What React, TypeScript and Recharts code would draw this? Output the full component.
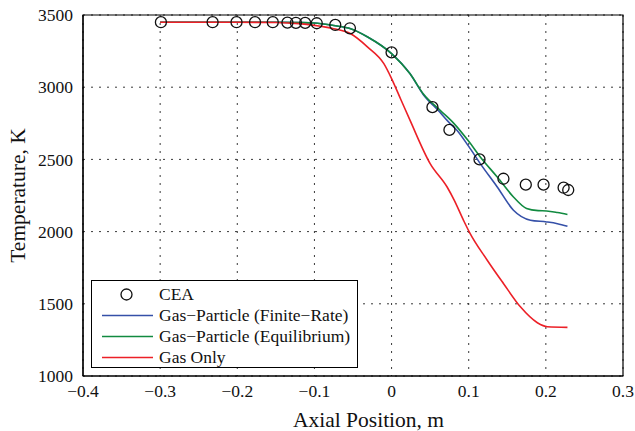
import React from 'react'
import { ComposedChart, Line, Scatter, XAxis, YAxis, CartesianGrid, ReferenceArea } from 'recharts'

// CEA reference points
const ceaX = [-0.299, -0.232, -0.201, -0.177, -0.154, -0.135, -0.124, -0.112, -0.097, -0.073, -0.054, 0.0, 0.053, 0.075, 0.114, 0.145, 0.174, 0.197, 0.223, 0.229]
const ceaT = [3450, 3450, 3450, 3450, 3450, 3447, 3446, 3445, 3443, 3431, 3408, 3241, 2862, 2704, 2500, 2366, 2325, 2325, 2304, 2288]

// Gas-Particle (Finite-Rate)
const finiteX = [-0.3, -0.2, -0.15, -0.12, -0.1, -0.075, -0.053, -0.031, 0.0, 0.024, 0.041, 0.063, 0.072, 0.085, 0.1, 0.115, 0.137, 0.158, 0.18, 0.201, 0.215, 0.228]
const finiteT = [3450, 3450, 3450, 3448, 3445, 3427, 3405, 3348, 3233, 3093, 2950, 2825, 2770, 2700, 2590, 2471, 2309, 2148, 2079, 2067, 2055, 2037]

// Gas-Particle (Equilibrium)
const equilX = [-0.3, -0.2, -0.15, -0.12, -0.1, -0.075, -0.053, -0.031, 0.0, 0.024, 0.041, 0.063, 0.081, 0.1, 0.115, 0.137, 0.158, 0.175, 0.19, 0.201, 0.215, 0.228]
const equilT = [3450, 3450, 3450, 3448, 3445, 3427, 3405, 3348, 3233, 3093, 2955, 2840, 2748, 2625, 2517, 2378, 2240, 2160, 2145, 2143, 2132, 2118]

// Gas Only
const gasX = [-0.3, -0.2, -0.15, -0.12, -0.1, -0.075, -0.053, -0.031, -0.01, 0.0, 0.012, 0.024, 0.05, 0.072, 0.081, 0.094, 0.101, 0.124, 0.145, 0.167, 0.189, 0.202, 0.228]
const gasT = [3450, 3450, 3448, 3440, 3428, 3405, 3370, 3278, 3163, 3060, 2915, 2770, 2471, 2309, 2220, 2070, 1995, 1802, 1641, 1479, 1369, 1341, 1337]

const xTicks = [-0.4, -0.3, -0.2, -0.1, 0, 0.1, 0.2, 0.3]
const yTicks = [1000, 1500, 2000, 2500, 3000, 3500]

const zip = (xs: number[], ts: number[]) => xs.map((x, i) => ({ x, t: ts[i] }))

const BLUE = '#3550a8'
const GREEN = '#118a40'
const RED = '#ec2027'
const FONT = '"Liberation Serif", "Times New Roman", Times, Tinos, "Nimbus Roman", "FreeSerif", "Noto Serif", "DejaVu Serif", "Noto Serif CJK SC", serif'

const fmtX = (v: number) => (v === 0 ? '0' : v < 0 ? '\u2212' + Math.abs(v) : String(v))

const Circle = (props: any) => (
  <circle cx={props.cx} cy={props.cy} r={5.5} fill="none" stroke="#111" strokeWidth={1.3} />
)

const legendRows = [
  { label: 'CEA', kind: 'circle', color: '#111' },
  { label: 'Gas\u2212Particle (Finite\u2212Rate)', kind: 'line', color: BLUE },
  { label: 'Gas\u2212Particle (Equilibrium)', kind: 'line', color: GREEN },
  { label: 'Gas Only', kind: 'line', color: RED },
]

export default function App() {
  return (
    <div style={{ position: 'relative', width: 635, height: 431, fontFamily: FONT }}>
      <style>{'body{margin:0;overflow:hidden}'}</style>
      <ComposedChart width={635} height={431} margin={{ top: 15, right: 12, left: 0, bottom: 0 }}>
        <CartesianGrid stroke="#222" strokeWidth={0.9} strokeDasharray="2 6" />
        <XAxis
          type="number"
          dataKey="x"
          domain={[-0.4, 0.3]}
          ticks={xTicks}
          tickFormatter={fmtX}
          tickLine={false}
          tickSize={0}
          tickMargin={9}
          height={55}
          axisLine={{ stroke: '#000', strokeWidth: 1.2 }}
          tick={{ fill: '#111', fontSize: 17.5, fontFamily: FONT }}
          label={{ value: 'Axial Position, m', position: 'insideBottom', offset: 4.5, dx: 15.5, fill: '#111', fontSize: 21.5, fontFamily: FONT }}
        />
        <YAxis
          type="number"
          dataKey="t"
          domain={[1000, 3500]}
          ticks={yTicks}
          tickLine={false}
          tickSize={0}
          tickMargin={10}
          width={83}
          axisLine={{ stroke: '#000', strokeWidth: 1.2 }}
          tick={{ fill: '#111', fontSize: 17.5, fontFamily: FONT }}
          label={{ value: 'Temperature, K', angle: -90, position: 'insideLeft', offset: 17, style: { textAnchor: 'middle' }, fill: '#111', fontSize: 21.5, fontFamily: FONT }}
        />
        <ReferenceArea x1={-0.4} x2={0.3} y1={1000} y2={3500} fill="none" fillOpacity={0} stroke="#000" strokeWidth={1.2} />
        <Line data={zip(finiteX, finiteT)} dataKey="t" type="monotone" stroke={BLUE} strokeWidth={1.6} dot={false} activeDot={false} isAnimationActive={false} />
        <Line data={zip(equilX, equilT)} dataKey="t" type="monotone" stroke={GREEN} strokeWidth={1.6} dot={false} activeDot={false} isAnimationActive={false} />
        <Line data={zip(gasX, gasT)} dataKey="t" type="monotone" stroke={RED} strokeWidth={1.6} dot={false} activeDot={false} isAnimationActive={false} />
        <Scatter data={zip(ceaX, ceaT)} dataKey="t" shape={Circle} isAnimationActive={false} />
      </ComposedChart>
      <div
        style={{
          position: 'absolute',
          left: 91,
          top: 280,
          width: 267,
          height: 88,
          border: '1.2px solid #000',
          background: '#fff',
          paddingTop: 3,
          boxSizing: 'border-box',
        }}
      >
        {legendRows.map((r) => (
          <div key={r.label} style={{ position: 'relative', height: 21, fontSize: 17.5, lineHeight: '21px', color: '#111' }}>
            <svg width={60} height={21} style={{ position: 'absolute', left: 9, top: 0 }}>
              {r.kind === 'circle' ? (
                <circle cx={25.5} cy={10.5} r={5.5} fill="none" stroke={r.color} strokeWidth={1.3} />
              ) : (
                <line x1={1} x2={52} y1={10.5} y2={10.5} stroke={r.color} strokeWidth={1.6} />
              )}
            </svg>
            <span style={{ position: 'absolute', left: 67, top: 0, whiteSpace: 'nowrap' }}>{r.label}</span>
          </div>
        ))}
      </div>
    </div>
  )
}
